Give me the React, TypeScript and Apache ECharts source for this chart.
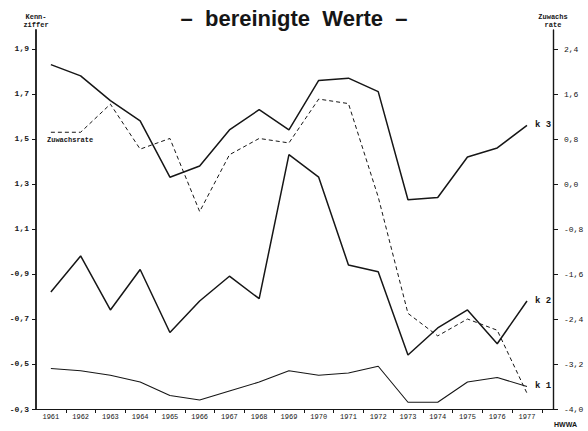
import { useEffect, useRef } from "react";
import * as echarts from "echarts";

const years = [1961, 1962, 1963, 1964, 1965, 1966, 1967, 1968, 1969, 1970, 1971, 1972, 1973, 1974, 1975, 1976, 1977];
const k3 = [1.83, 1.78, 1.67, 1.58, 1.33, 1.38, 1.54, 1.63, 1.54, 1.76, 1.77, 1.71, 1.23, 1.24, 1.42, 1.46, 1.56];
const k2 = [0.82, 0.98, 0.74, 0.92, 0.64, 0.78, 0.89, 0.79, 1.43, 1.33, 0.94, 0.91, 0.54, 0.66, 0.74, 0.59, 0.78];
const k1 = [0.48, 0.47, 0.45, 0.42, 0.36, 0.34, 0.38, 0.42, 0.47, 0.45, 0.46, 0.49, 0.33, 0.33, 0.42, 0.44, 0.4];
const zuwachsrate = [0.92, 0.92, 1.42, 0.62, 0.81, -0.49, 0.52, 0.81, 0.73, 1.51, 1.43, -0.23, -2.3, -2.7, -2.4, -2.6, -3.72];

const xTickMarks = [1961.5, 1962.5, 1963.5, 1964.5, 1965.5, 1966.5, 1967.5, 1968.5, 1969.5, 1970.5, 1971.5, 1972.5, 1973.5, 1974.5, 1975.5, 1976.5, 1977.5];
const leftTicks = [0.3, 0.5, 0.7, 0.9, 1.1, 1.3, 1.5, 1.7, 1.9];
const rightTicks = [-4.0, -3.2, -2.4, -1.6, -0.8, 0.0, 0.8, 1.6, 2.4];

export default function App() {
  const ref = useRef<HTMLDivElement>(null);
  useEffect(() => {
    const chart = echarts.init(ref.current!, null, { renderer: "svg" });
    const mono = "'Liberation Mono', 'DejaVu Sans Mono', monospace";
    const ink = "#161616";
    const pair = (vals: number[]) => years.map((y, i) => [y, vals[i]]);
    const comma = (v: number) => v.toFixed(1).replace(".", ",");
    const endLbl = (t: string) => ({
      show: true,
      formatter: t,
      fontFamily: mono,
      fontSize: 9,
      fontWeight: "bold",
      color: ink,
      distance: 8,
    });
    chart.setOption({
      animation: false,
      backgroundColor: "#ffffff",
      title: {
        text: "–  bereinigte  Werte  –",
        left: "center",
        top: 2,
        textStyle: { fontFamily: "'Liberation Sans', Arial, sans-serif", fontSize: 22, fontWeight: "bold", color: ink },
      },
      grid: { left: 36, right: 35, top: 30, bottom: 22 },
      xAxis: {
        type: "value",
        min: 1960.5,
        max: 1977.874,
        axisLine: { show: true, onZero: false, lineStyle: { color: ink, width: 1.2 } },
        axisTick: { show: true, customValues: xTickMarks, length: 4, lineStyle: { color: ink, width: 1 } },
        axisLabel: {
          customValues: years,
          formatter: (v: number) => String(Math.round(v)),
          fontFamily: mono,
          fontSize: 7,
          color: ink,
          margin: 4,
        },
        splitLine: { show: false },
      },
      yAxis: [
        {
          type: "value",
          position: "left",
          min: 0.3,
          max: 1.984,
          name: "Kenn-\nziffer",
          nameLocation: "end",
          nameGap: 1,
          nameTextStyle: { fontFamily: mono, fontSize: 7, fontWeight: "bold", color: ink, lineHeight: 8 },
          axisLine: { show: true, onZero: false, lineStyle: { color: ink, width: 1.8 } },
          axisTick: { show: true, customValues: leftTicks, length: 4, lineStyle: { color: ink } },
          axisLabel: {
            customValues: leftTicks,
            formatter: (v: number) => (v < 1 ? "-" + comma(v) : comma(v)),
            fontFamily: mono,
            fontSize: 8,
            fontWeight: "bold",
            color: ink,
            margin: 7,
          },
          splitLine: { show: false },
        },
        {
          type: "value",
          position: "right",
          min: -4.0,
          max: 2.738,
          name: "Zuwachs\nrate",
          nameLocation: "end",
          nameGap: 1,
          nameTextStyle: { fontFamily: mono, fontSize: 7, fontWeight: "bold", color: ink, lineHeight: 8 },
          axisLine: { show: true, onZero: false, lineStyle: { color: ink, width: 1.4 } },
          axisTick: { show: true, customValues: rightTicks, length: 5, lineStyle: { color: ink } },
          axisLabel: {
            customValues: rightTicks,
            formatter: (v: number) => comma(v),
            fontFamily: mono,
            fontSize: 8,
            color: ink,
            margin: 11,
          },
          splitLine: { show: false },
        },
      ],
      series: [
        {
          name: "k 3",
          type: "line",
          data: pair(k3),
          symbol: "none",
          lineStyle: { color: ink, width: 1.5 },
          endLabel: endLbl("k 3"),
        },
        {
          name: "k 2",
          type: "line",
          data: pair(k2),
          symbol: "none",
          lineStyle: { color: ink, width: 1.5 },
          endLabel: endLbl("k 2"),
        },
        {
          name: "k 1",
          type: "line",
          data: pair(k1),
          symbol: "none",
          lineStyle: { color: ink, width: 1.1 },
          endLabel: endLbl("k 1"),
        },
        {
          name: "Zuwachsrate",
          type: "line",
          yAxisIndex: 1,
          data: pair(zuwachsrate),
          symbol: "none",
          lineStyle: { color: ink, width: 1, type: [4, 3] },
        },
      ],
      graphic: [
        {
          type: "text",
          left: 47,
          top: 136,
          style: { text: "Zuwachsrate", fontFamily: mono, fontSize: 7, fontWeight: "bold", fill: ink },
        },
        {
          type: "text",
          left: 554,
          top: 421,
          style: { text: "HWWA", fontFamily: "'Liberation Sans', Arial, sans-serif", fontSize: 7, fontWeight: "bold", fill: ink },
        },
      ],
    });
    return () => chart.dispose();
  }, []);
  return <div ref={ref} style={{ position: "fixed", left: 0, top: 0, width: 588, height: 431, background: "#fff" }} />;
}
